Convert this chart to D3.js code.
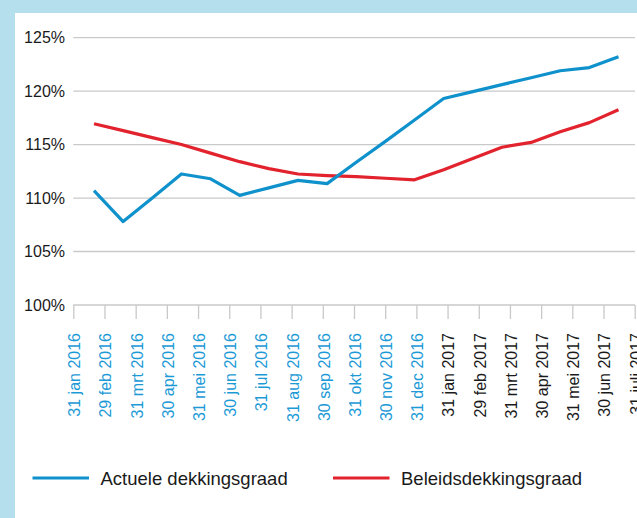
<!DOCTYPE html>
<html>
<head>
<meta charset="utf-8">
<script src="https://cdn.jsdelivr.net/npm/d3@7"></script>
<style>
    body { margin: 0; background: #b5dfec; }
    .svg-div { width: 637px; height: 518px; }
    text { font-family: "Liberation Sans", Arial, sans-serif; }
</style>
</head>
<body>
<div class="svg-div"></div>
<script>
var dateLabels = ["31 jan 2016", "29 feb 2016", "31 mrt 2016", "30 apr 2016", "31 mei 2016", "30 jun 2016",
    "31 jul 2016", "31 aug 2016", "30 sep 2016", "31 okt 2016", "30 nov 2016", "31 dec 2016",
    "31 jan 2017", "29 feb 2017", "31 mrt 2017", "30 apr 2017", "31 mei 2017", "30 jun 2017", "31 juli 2017"]
var actueel = [110.7, 107.8, 110.0, 112.25, 111.8, 110.25, 110.95, 111.65, 111.35, 113.35, 115.3, 117.3,
    119.3, 119.95, 120.6, 121.25, 121.9, 122.2, 123.2]
var beleid = [116.95, 116.3, 115.65, 115.0, 114.2, 113.4, 112.75, 112.25, 112.1, 112.0, 111.85, 111.7,
    112.65, 113.7, 114.75, 115.2, 116.2, 117.05, 118.25]
var yTicks = [100, 105, 110, 115, 120, 125]
var seriesNames = ["Actuele dekkingsgraad", "Beleidsdekkingsgraad"]
var seriesColors = ["#0f91cc", "#e2232d"]

var svg = d3.select(".svg-div").append("svg")
    .attr("width", 637)
    .attr("height", 518)

svg.append("rect")
    .attr("x", 15).attr("y", 13)
    .attr("width", 622).attr("height", 505)
    .attr("fill", "#ffffff")

var yScale = d3.scaleLinear().domain([100, 125]).range([305, 37.6])
var xTick = d3.scalePoint().domain(dateLabels).range([73.3, 634.7])
var xData = d3.scalePoint().domain(d3.range(actueel.length)).range([94, 618.5])

// grid
svg.append("g").selectAll("line")
    .data(yTicks)
    .join("line")
    .attr("x1", 73.3).attr("x2", 635)
    .attr("y1", d => yScale(d)).attr("y2", d => yScale(d))
    .attr("stroke", "#c9c9c9")
    .attr("stroke-width", 1.3)

let yAxis = d3.axisLeft(yScale)
    .tickValues(yTicks)
    .tickSize(0)
    .tickPadding(0)
    .tickFormat(d => d + "%")
let gyAxis = svg.append("g")
    .attr("transform", "translate(65,0)")
yAxis(gyAxis)
gyAxis.select(".domain").remove()
gyAxis.selectAll("text")
    .attr("font-size", 16)
    .attr("fill", "#1a1a1a")
    .attr("font-family", "Liberation Sans, Arial, sans-serif")

let xAxis = d3.axisBottom(xTick).tickSize(14).tickPadding(0)
let gxAxis = svg.append("g")
    .attr("transform", "translate(0,305)")
xAxis(gxAxis)
gxAxis.select(".domain").remove()
gxAxis.selectAll(".tick line").attr("stroke", "#c9c9c9").attr("stroke-width", 1.3)
gxAxis.selectAll("text")
    .attr("font-size", 16)
    .attr("font-family", "Liberation Sans, Arial, sans-serif")
    .attr("fill", d => d.indexOf("2016") > 0 ? "#1c9ad6" : "#1a1a1a")
    .attr("text-anchor", "end")
    .attr("transform", "translate(0,28) rotate(-90)")
    .attr("x", 0).attr("y", 0)
    .attr("dy", "0.4em")

var line = d3.line()
    .x((d, i) => xData(i))
    .y(d => yScale(d))

svg.append("path")
    .datum(beleid)
    .attr("d", line)
    .attr("fill", "none")
    .attr("stroke", seriesColors[1])
    .attr("stroke-width", 3.2)
    .attr("stroke-linejoin", "round")

svg.append("path")
    .datum(actueel)
    .attr("d", line)
    .attr("fill", "none")
    .attr("stroke", seriesColors[0])
    .attr("stroke-width", 3.2)
    .attr("stroke-linejoin", "round")

var legendX = [32.5, 333]
let legend = svg.append("g").selectAll("g")
    .data(seriesNames)
    .join("g")
    .attr("transform", (d, i) => "translate(" + legendX[i] + ",478)")
legend.append("line")
    .attr("x1", 0).attr("x2", 56.5)
    .attr("stroke", (d, i) => seriesColors[i])
    .attr("stroke-width", 3)
legend.append("text")
    .attr("x", 68).attr("y", 7)
    .attr("font-size", 18.5)
    .attr("fill", "#1a1a1a")
    .text(d => d)
</script>
</body>
</html>
